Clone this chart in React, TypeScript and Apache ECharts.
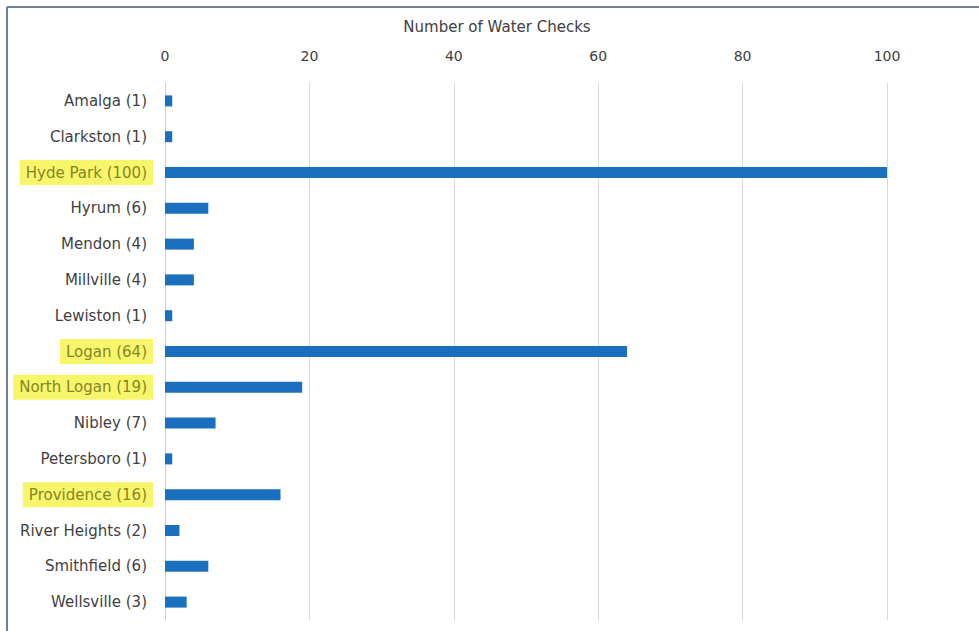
import React, { useEffect, useRef } from "react";
import * as echarts from "echarts";

const towns = [
  "Amalga (1)",
  "Clarkston (1)",
  "Hyde Park (100)",
  "Hyrum (6)",
  "Mendon (4)",
  "Millville (4)",
  "Lewiston (1)",
  "Logan (64)",
  "North Logan (19)",
  "Nibley (7)",
  "Petersboro (1)",
  "Providence (16)",
  "River Heights (2)",
  "Smithfield (6)",
  "Wellsville (3)",
];
const checks = [1, 1, 100, 6, 4, 4, 1, 64, 19, 7, 1, 16, 2, 6, 3];
const highlighted = ["Hyde Park (100)", "Logan (64)", "North Logan (19)", "Providence (16)"];
const axisTitle = "Number of Water Checks";

export default function App() {
  const ref = useRef<HTMLDivElement>(null);
  useEffect(() => {
    if (!ref.current) return;
    const chart = echarts.init(ref.current, null, { renderer: "svg" });
    const font = "'DejaVu Sans', 'Noto Sans', sans-serif";
    chart.setOption({
      animation: false,
      backgroundColor: "#ffffff",
      textStyle: { fontFamily: font },
      grid: { left: 165, right: 92, top: 83, bottom: 11, containLabel: false },
      graphic: [
        {
          type: "line",
          shape: { x1: 7, y1: 7, x2: 979, y2: 7 },
          style: { stroke: "#6f8196", lineWidth: 2 },
        },
        {
          type: "line",
          shape: { x1: 7, y1: 7, x2: 7, y2: 631 },
          style: { stroke: "#6f8196", lineWidth: 2 },
        },
      ],
      xAxis: {
        type: "value",
        position: "top",
        min: 0,
        max: 100,
        interval: 20,
        name: axisTitle,
        nameLocation: "middle",
        nameGap: 49,
        nameTextStyle: {
          color: "#404040",
          fontSize: 15,
          fontFamily: font,
          padding: [0, 58, 0, 0],
        },
        axisLine: { show: false },
        axisTick: { show: false },
        axisLabel: { color: "#404040", fontSize: 14, margin: 20, fontFamily: font },
        splitLine: { show: true, lineStyle: { color: "#d9d9d9", width: 1 } },
      },
      yAxis: {
        type: "category",
        inverse: true,
        data: towns,
        axisLine: { show: true, lineStyle: { color: "#d0d0d0", width: 1 } },
        axisTick: { show: false },
        axisLabel: {
          margin: 12,
          fontFamily: font,
          formatter: (v: string) => (highlighted.includes(v) ? `{hl|${v}}` : `{n|${v}}`),
          rich: {
            n: { color: "#3f3f3f", fontSize: 15, fontFamily: font, padding: [5, 6] },
            hl: {
              color: "#85852a",
              fontSize: 15,
              fontFamily: font,
              backgroundColor: "#f7f56a",
              padding: [5, 6],
            },
          },
        },
      },
      series: [
        {
          type: "bar",
          data: checks,
          barWidth: 11,
          itemStyle: { color: "#1a6fbf" },
        },
      ],
    });
    return () => chart.dispose();
  }, []);
  return (
    <div
      ref={ref}
      style={{ position: "fixed", left: 0, top: 0, width: 979, height: 631 }}
    />
  );
}
